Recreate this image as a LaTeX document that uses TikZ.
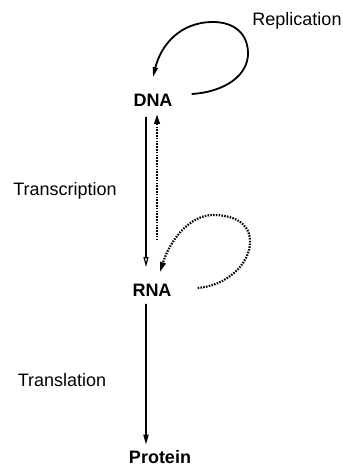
\documentclass[tikz,border=0pt]{standalone}
\usepackage{fontspec}
\setmainfont{Liberation Sans}
\usepackage{tikz}
\usetikzlibrary{arrows.meta}

\begin{document}
\begin{tikzpicture}[
    x=1bp, y=-1bp,
    font=\fontsize{18bp}{20bp}\selectfont,
    mol/.style={inner sep=0pt, font=\fontsize{18bp}{20bp}\selectfont\bfseries},
    proc/.style={inner sep=0pt},
    arr/.style={-{Triangle[length=10bp, width=5bp]}, line width=1.8bp},
    openarr/.style={-{Triangle[open, length=10bp, width=5bp, line width=1.2bp]}, line width=1.8bp},
    dotarr/.style={-{Triangle[length=10bp, width=5.5bp]}, line width=2.2bp,
        dash pattern=on 1.5bp off 1.3bp},
  ]
  \useasboundingbox (0,0) rectangle (342,467);
  % molecules
  \node[mol] (dna) at (153,100) {DNA};
  \node[mol] (rna) at (152,290) {RNA};
  \node[mol] (prot) at (160,457) {Protein};
  % processes
  \node[proc] (repl) at (297,21) {Replication};
  \node[proc] (trsc) at (65,191) {Transcription};
  \node[proc] (trsl) at (62,380) {Translation};
  % DNA -> RNA -> Protein
  \draw[openarr] ([xshift=-7bp, yshift=-10.5bp]dna.south) -- ([xshift=-6bp, yshift=16.5bp]rna.north);
  \draw[arr] ([xshift=-6bp, yshift=-7.5bp]rna.south) -- ([xshift=-14bp, yshift=5.5bp]prot.north);
  % reverse transcription
  \draw[dotarr] ([xshift=5bp, yshift=43.5bp]rna.north) -- ([xshift=4bp, yshift=-7.5bp]dna.south);
  % replication loops
  \draw[arr] ([xshift=19bp, yshift=6bp]dna.east)
      .. controls (225,92) and (249,75) .. (248,52)
      .. controls (247,30) and (230,22) .. (213,22)
      .. controls (180,22) and (161,45) .. ([yshift=16.5bp]dna.north);
  \draw[dotarr] ([xshift=26bp, yshift=2bp]rna.east)
      .. controls (225,286) and (251,265) .. (250,240)
      .. controls (249,222) and (232,215) .. (213,215)
      .. controls (190,215) and (170,240) .. ([xshift=8bp, yshift=11.5bp]rna.north);
\end{tikzpicture}
\end{document}
